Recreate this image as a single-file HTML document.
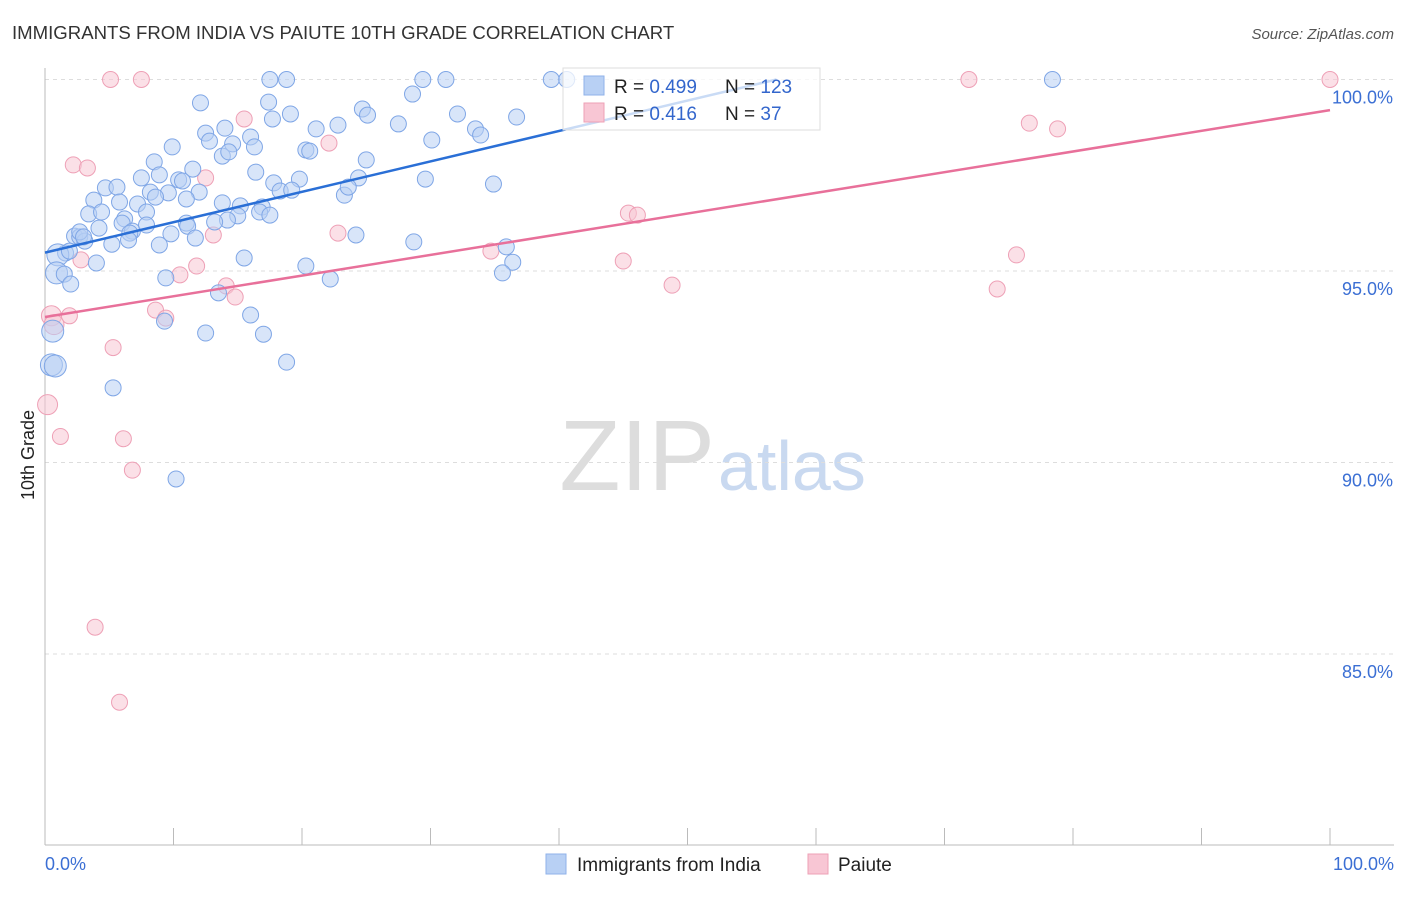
<!DOCTYPE html>
<html><head><meta charset="utf-8"><style>
body{margin:0;background:#fff;font-family:"Liberation Sans",sans-serif;}
svg text{font-family:"Liberation Sans",sans-serif;}
</style></head><body>
<svg id="c" width="1406" height="892">
<text x="12" y="39" font-size="18.6" fill="#333">IMMIGRANTS FROM INDIA VS PAIUTE 10TH GRADE CORRELATION CHART</text>
<text x="1394" y="39" font-size="15" fill="#555" font-style="italic" text-anchor="end">Source: ZipAtlas.com</text>
<text x="34" y="455" font-size="18" fill="#222" transform="rotate(-90 34 455)" text-anchor="middle">10th Grade</text>
<text x="715" y="490" font-size="100" fill="#ddd" text-anchor="end" font-family="Liberation Serif">ZIP</text>
<text x="718" y="490" font-size="70" fill="#c9d9f0">atlas</text>
<g id="grid"></g><g id="axes"></g><g id="pts"></g><g id="lines"></g>
<g>
<rect x="563" y="68" width="257" height="62" fill="#fff" fill-opacity="0.75" stroke="#ddd"/>
<rect x="584" y="76" width="20" height="19" fill="#b8d0f4" stroke="#8fb2ea"/>
<rect x="584" y="103" width="20" height="19" fill="#f8c6d4" stroke="#eea0b6"/>
<text x="614" y="93" font-size="19" fill="#222">R = <tspan fill="#3366cc">0.499</tspan><tspan x="725">N = </tspan><tspan fill="#3366cc">123</tspan></text>
<text x="614" y="120" font-size="19" fill="#222">R = <tspan fill="#3366cc"> 0.416</tspan><tspan x="725">N = </tspan><tspan fill="#3366cc">  37</tspan></text>
</g>
<g>
<rect x="546" y="854" width="20" height="20" fill="#b8d0f4" stroke="#8fb2ea"/>
<text x="577" y="871" font-size="19" fill="#222">Immigrants from India</text>
<rect x="808" y="854" width="20" height="20" fill="#f8c6d4" stroke="#eea0b6"/>
<text x="838" y="871" font-size="19" fill="#222">Paiute</text>
</g>
</svg>
<script>
const yTicks=[100,95,90,85];
const yTickLabels=["100.0%","95.0%","90.0%","85.0%"];
const xTickLabels=["0.0%","100.0%"];
const blueX=[17.5,18.8,29.4,31.2,39.4,40.6,78.4,12.1,17.4,28.6,24.7,25.1,19.1,17.7,32.1,36.7,27.5,21.1,22.8,33.5,33.9,30.1,12.5,14.0,12.8,14.6,16.0,16.3,20.3,20.6,9.9,13.8,14.3,25.0,8.5,11.5,16.4,7.5,8.9,10.4,10.7,17.8,19.8,24.4,29.6,34.9,4.7,5.6,8.2,9.6,12.0,18.3,19.2,23.3,11.0,23.6,3.8,5.8,7.2,8.6,13.8,15.2,16.9,3.4,4.4,6.2,7.9,16.7,15.0,14.2,6.0,11.0,13.2,17.5,9.8,6.8,11.1,2.3,2.7,3.1,4.2,6.6,7.9,11.7,5.2,8.9,6.5,1.6,24.2,28.7,35.9,1.0,1.9,4.0,15.5,20.3,36.4,0.9,1.5,2.0,9.4,22.2,35.6,13.5,16.0,9.3,12.5,17.0,0.6,0.5,0.8,18.8,5.3,10.2,2.7,3.0];
const blueY=[100,100,100,100,100,100,100,99.39,99.41,99.62,99.23,99.07,99.10,98.97,99.10,99.02,98.84,98.71,98.81,98.71,98.55,98.42,98.60,98.73,98.39,98.32,98.50,98.24,98.16,98.13,98.24,98.00,98.11,97.90,97.85,97.66,97.58,97.43,97.51,97.38,97.35,97.30,97.40,97.43,97.40,97.27,97.17,97.19,97.06,97.04,97.06,97.09,97.11,96.98,96.88,97.19,96.85,96.80,96.75,96.93,96.78,96.70,96.67,96.49,96.54,96.36,96.54,96.54,96.44,96.33,96.25,96.25,96.28,96.46,95.97,96.04,96.17,95.91,95.89,95.78,96.12,95.99,96.20,95.86,95.70,95.68,95.81,95.47,95.94,95.76,95.63,95.42,95.52,95.21,95.34,95.13,95.23,94.95,94.92,94.66,94.82,94.79,94.95,94.43,93.85,93.69,93.38,93.35,93.43,92.55,92.52,92.62,91.95,89.57,96.02,95.89];
const pinkX=[5.1,7.5,71.9,100,15.5,76.6,78.8,22.1,2.2,3.3,12.5,45.4,46.1,22.8,13.1,34.7,45.0,75.6,2.8,11.8,10.5,14.1,48.8,74.1,14.8,8.6,9.4,0.5,1.9,0.7,5.3,0.2,1.2,6.1,6.8,3.9,5.8];
const pinkY=[100,100,100,100,98.97,98.86,98.71,98.34,97.77,97.69,97.43,96.51,96.46,95.99,95.94,95.52,95.26,95.42,95.29,95.13,94.90,94.61,94.63,94.53,94.32,93.98,93.77,93.83,93.83,93.60,93.00,91.51,90.68,90.62,89.80,85.70,83.74];
const blueFit=[95.48,0.0794];
const pinkFit=[93.80,0.054];
const X=v=>45+v*12.85, Y=v=>79.5+(100-v)*38.3;
const NS="http://www.w3.org/2000/svg";
function mk(t,a,p){const e=document.createElementNS(NS,t);for(const k in a)e.setAttribute(k,a[k]);document.getElementById(p).appendChild(e);return e;}
yTicks.forEach((v,i)=>{
 const l=mk('line',{x1:45,x2:1394,y1:Y(v),y2:Y(v),stroke:'#ddd','stroke-dasharray':'4,4'},'grid');
 
 
 const t=mk('text',{x:1393,y:Y(v)+24,'font-size':18,fill:'#3b6fd4','text-anchor':'end'},'axes');
 t.textContent=yTickLabels[i];
 
 
});
mk('line',{x1:45,x2:45,y1:68,y2:845,stroke:'#bbb'},'axes');
mk('line',{x1:45,x2:1394,y1:845,y2:845,stroke:'#bbb'},'axes');
for(let i=0;i<=10;i++){const tk=mk('line',{x1:X(i*10),x2:X(i*10),y1:828,y2:845,stroke:'#bbb'},'axes');
 
 }
[[0,'start',45],[1,'end',1394]].forEach(([i,a,x])=>{const t=mk('text',{x:x,y:870,'font-size':18,fill:'#3b6fd4','text-anchor':a},'axes');t.textContent=xTickLabels[i];
 
 });
pinkX.forEach((x,i)=>{const c=mk('circle',{cx:X(x),cy:Y(pinkY[i]),r:x<1?10:8,fill:'#f8c6d4','fill-opacity':0.55,stroke:'#eea0b6'},'pts');
 
 });
blueX.forEach((x,i)=>{const c=mk('circle',{cx:X(x),cy:Y(blueY[i]),r:x<1.1?11:8,fill:'#b8d0f4','fill-opacity':0.55,stroke:'#7fa6e6'},'pts');
 
 });
const bEnd=(100-blueFit[0])/blueFit[1];
const bl=mk('line',{x1:X(0),y1:Y(blueFit[0]),x2:X(bEnd),y2:Y(100),stroke:'#2a6fd6','stroke-width':2.5},'lines');


const pl=mk('line',{x1:X(0),y1:Y(pinkFit[0]),x2:X(100),y2:Y(pinkFit[0]+pinkFit[1]*100),stroke:'#e8709a','stroke-width':2.5},'lines');


</script>
</body></html>
